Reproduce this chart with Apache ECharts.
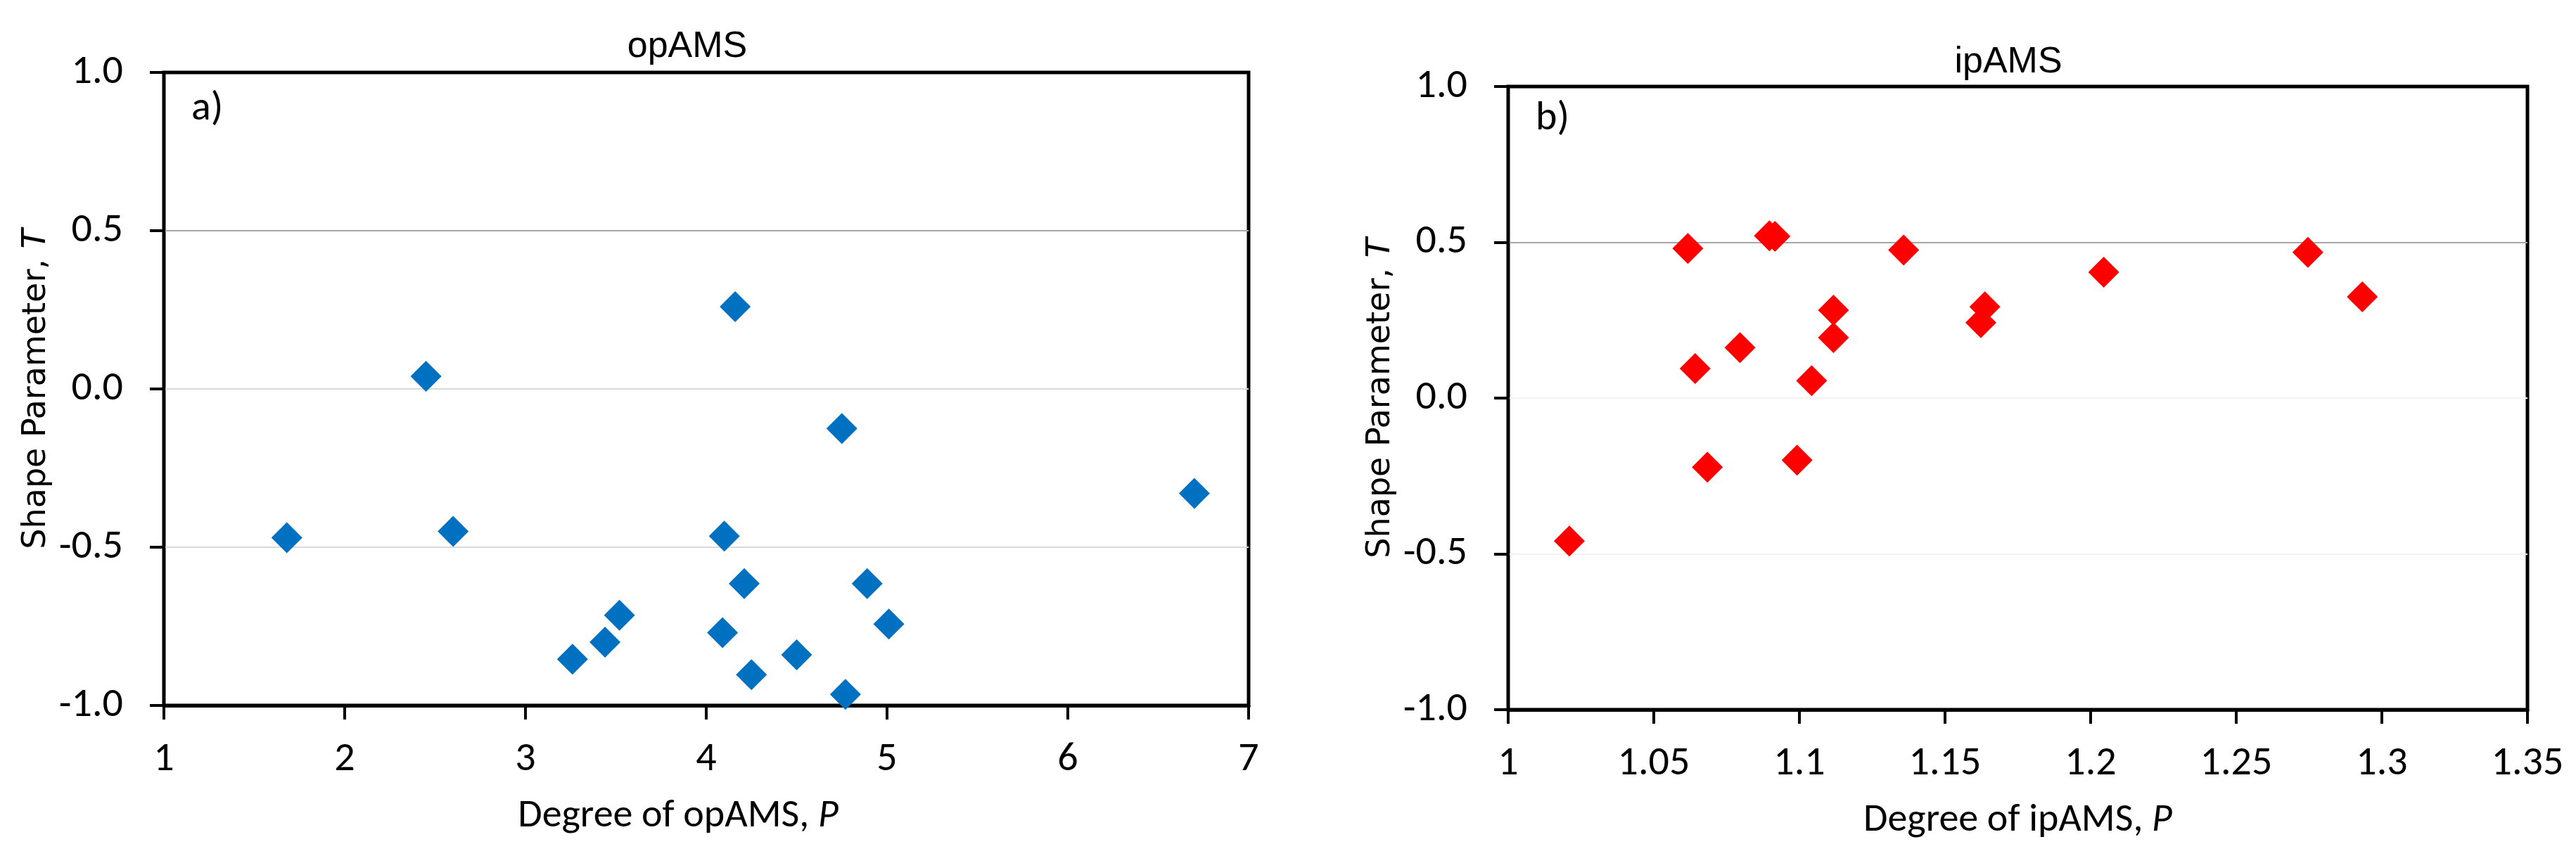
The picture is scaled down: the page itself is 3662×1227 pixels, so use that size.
<!DOCTYPE html>
<html>
<head>
<meta charset="utf-8">
<script src="https://cdn.jsdelivr.net/npm/echarts@6/dist/echarts.min.js"></script>
<style>
html, body { margin: 0; padding: 0; background: #fff; }
#chart { width: 3662px; height: 1227px; }
</style>
</head>
<body>
<div id="chart"></div>
<script>
// opAMS (a): degree P vs shape parameter T
const opP = [1.68, 2.45, 2.60, 4.16, 4.75, 6.70, 4.10, 4.21, 4.89, 3.52, 5.01, 4.09, 3.44, 3.26, 4.50, 4.25, 4.77];
const opT = [-0.47, 0.04, -0.45, 0.26, -0.125, -0.33, -0.465, -0.615, -0.615, -0.715, -0.743, -0.77, -0.80, -0.854, -0.84, -0.903, -0.965];

// ipAMS (b)
const ipP = [1.021, 1.0617, 1.0642, 1.0684, 1.0796, 1.0897, 1.0916, 1.0992, 1.1042, 1.1117, 1.1117, 1.1358, 1.1623, 1.1637, 1.2045, 1.2746, 1.2933];
const ipT = [-0.459, 0.48, 0.095, -0.222, 0.162, 0.521, 0.519, -0.199, 0.056, 0.282, 0.194, 0.475, 0.242, 0.293, 0.404, 0.468, 0.325];

const titles = ['opAMS', 'ipAMS'];
const panelTags = ['a)', 'b)'];
const xNames = ['Degree of opAMS, ', 'Degree of ipAMS, '];
const yName = 'Shape Parameter, ';

let myChart = echarts.init(document.getElementById('chart'));

const tickFont = "Carlito, 'Liberation Sans Narrow', 'DejaVu Sans Condensed', sans-serif";
const nameFont = "'DejaVu Sans', Verdana, sans-serif";

function xAxisFor(idx, min, max, interval, fmt, nameShift) {
    return {
        gridIndex: idx,
        type: 'value',
        min: min, max: max, interval: interval,
        name: '{n|' + xNames[idx] + '}{i|P}',
        nameLocation: 'middle',
        nameGap: 130,
        nameTextStyle: {
            padding: [0, nameShift, 0, 0],
            rich: {
                n: { fontFamily: tickFont, fontSize: 56, color: '#000' },
                i: { fontFamily: tickFont, fontSize: 56, color: '#000', fontStyle: 'italic' }
            }
        },
        axisLine: { onZero: false, lineStyle: { color: '#000', width: 5 } },
        axisTick: { show: true, length: 20, lineStyle: { color: '#000', width: 4 } },
        axisLabel: {
            margin: 48, fontFamily: tickFont, fontSize: 58, color: '#000',
            showMinLabel: true, showMaxLabel: true,
            formatter: fmt
        },
        splitLine: { show: false }
    };
}

function yAxisFor(idx, gridColors) {
    return {
        gridIndex: idx,
        type: 'value',
        min: -1, max: 1, interval: 0.5,
        name: '{n|' + yName + '}{i|T}',
        nameLocation: 'middle',
        nameGap: 158,
        nameTextStyle: {
            rich: {
                n: { fontFamily: nameFont, fontSize: 46, color: '#000' },
                i: { fontFamily: nameFont, fontSize: 46, color: '#000', fontStyle: 'italic' }
            }
        },
        axisLine: { onZero: false, lineStyle: { color: '#000', width: 4 } },
        axisTick: { show: true, length: 20, lineStyle: { color: '#000', width: 4 } },
        axisLabel: {
            margin: 58, fontFamily: tickFont, fontSize: 58, color: '#000',
            formatter: function (v) { return v.toFixed(1); }
        },
        splitLine: { show: true, lineStyle: { color: gridColors, width: 2 } }
    };
}

myChart.setOption({
    backgroundColor: '#fff',
    animation: false,
    title: [
        { text: titles[0], left: 972, top: 36, textAlign: 'center',
          textStyle: { fontFamily: "'Liberation Sans', Arial, sans-serif", fontSize: 52, fontWeight: 'normal', color: '#000' } },
        { text: titles[1], left: 2850, top: 58, textAlign: 'center',
          textStyle: { fontFamily: "'Liberation Sans', Arial, sans-serif", fontSize: 52, fontWeight: 'normal', color: '#000' } }
    ],
    grid: [
        { left: 233, top: 103, width: 1542, height: 900, show: true, borderColor: '#000', borderWidth: 5 },
        { left: 2144, top: 123, width: 1449, height: 886, show: true, borderColor: '#000', borderWidth: 5 }
    ],
    xAxis: [
        xAxisFor(0, 1, 7, 1, function (v) { return String(Math.round(v)); }, 80),
        xAxisFor(1, 1, 1.35, 0.05, function (v) { return String(+v.toFixed(2)); }, 0)
    ],
    yAxis: [
        yAxisFor(0, ['#000', '#d9d9d9', '#d9d9d9', '#a6a6a6', '#000']),
        yAxisFor(1, ['#000', '#f3f3f3', '#f3f3f3', '#a6a6a6', '#000'])
    ],
    graphic: [
        { type: 'text', left: 272, top: 126,
          style: { text: panelTags[0], font: "58px " + tickFont, fill: '#000' } },
        { type: 'text', left: 2183, top: 140,
          style: { text: panelTags[1], font: "58px " + tickFont, fill: '#000' } }
    ],
    series: [
        {
            name: 'opAMS', type: 'scatter', xAxisIndex: 0, yAxisIndex: 0,
            symbol: 'diamond', symbolSize: 44,
            itemStyle: { color: '#0070C0', opacity: 1 },
            data: opP.map(function (p, i) { return [p, opT[i]]; })
        },
        {
            name: 'ipAMS', type: 'scatter', xAxisIndex: 1, yAxisIndex: 1,
            symbol: 'diamond', symbolSize: 44,
            itemStyle: { color: '#FF0000', opacity: 1 },
            data: ipP.map(function (p, i) { return [p, ipT[i]]; })
        }
    ]
});
</script>
</body>
</html>
